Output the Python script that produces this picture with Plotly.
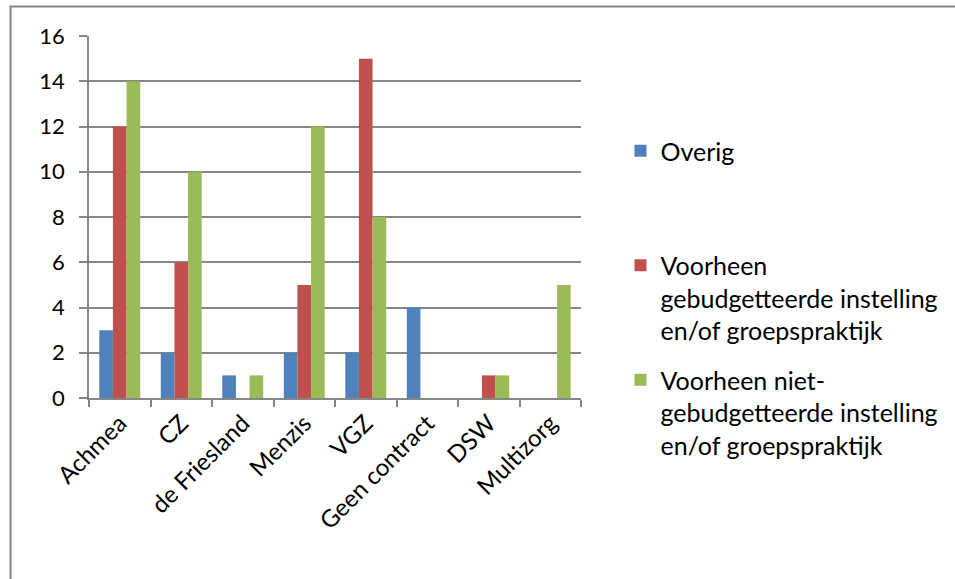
import plotly.graph_objects as go

categories = ["Achmea", "CZ", "de Friesland", "Menzis", "VGZ", "Geen contract", "DSW", "Multizorg"]
overig = [3, 2, 1, 2, 2, 4, 0, 0]
gebudgetteerd = [12, 6, 0, 5, 15, 0, 1, 0]
niet_gebudgetteerd = [14, 10, 1, 12, 8, 0, 1, 5]
series_names = [
    "Overig<br> <br> ",
    "Voorheen<br>gebudgetteerde instelling<br>en/of groepspraktijk",
    "Voorheen niet-<br>gebudgetteerde instelling<br>en/of groepspraktijk",
]
colors = ["#4F81BD", "#C0504D", "#9BBB59"]
y_ticks = [0, 2, 4, 6, 8, 10, 12, 14, 16]

FONT = "Lato, 'Open Sans', sans-serif"
W, H = 955, 579
ML, MR, MT, MB = 89, 355, 36, 181
pw, ph = W - ML - MR, H - MT - MB

fig = go.Figure()
for i, (name, vals) in enumerate(zip(series_names, [overig, gebudgetteerd, niet_gebudgetteerd])):
    fig.add_trace(go.Bar(x=categories, y=vals, name=name, marker=dict(color=colors[i], line=dict(width=0)),
                         legendgroup=f"g{i}"))

def px2x(px):
    return (px - ML) / pw

def px2y(py):
    return (H - MB - py) / ph

border = f"M {px2x(7.5)},{px2y(600)} L {px2x(7.5)},{px2y(6.5)} L {px2x(990)},{px2y(6.5)}"

fig.update_layout(
    width=W, height=H,
    margin=dict(l=ML, r=MR, t=MT, b=MB, pad=0),
    paper_bgcolor="white", plot_bgcolor="white",
    barmode="group", bargap=0.335, bargroupgap=0,
    font=dict(family=FONT, size=22, color="#000000"),
    showlegend=True,
    legend=dict(x=px2x(641), y=px2y(128), xanchor="left", yanchor="top",
                font=dict(family=FONT, size=25, color="#000000"),
                valign="top", tracegroupgap=14, itemwidth=30,
                bgcolor="rgba(0,0,0,0)"),
    xaxis=dict(showline=True, linecolor="#868686", linewidth=1.5,
               ticks="outside", tickson="boundaries", ticklen=7, tickcolor="#868686", tickwidth=1.5,
               tickangle=-45, tickfont=dict(family=FONT, size=24, color="#000000"),
               showgrid=False, zeroline=False, fixedrange=True),
    yaxis=dict(range=[0, 16], tickvals=y_ticks, showline=True, linecolor="#868686", linewidth=1.5,
               ticks="outside", ticklen=8, tickcolor="#868686", tickwidth=1.5,
               ticklabelstandoff=10,
               showgrid=True, gridcolor="#868686", gridwidth=1.5, zeroline=False,
               tickfont=dict(family=FONT, size=22, color="#000000"), fixedrange=True),
    shapes=[dict(type="path", path=border, xref="paper", yref="paper",
                 line=dict(color="#868686", width=2), layer="above")],
)

fig.write_html("out.html", config={"displayModeBar": False},
               post_script="document.body.style.margin='0';document.body.style.overflow='hidden';")
